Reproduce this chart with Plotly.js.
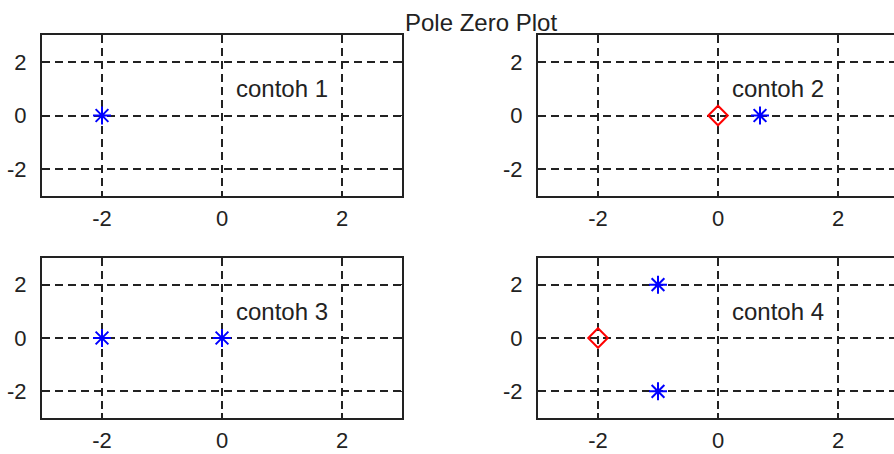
<!DOCTYPE html>
<html>
<head>
<meta charset="utf-8">
<script src="https://cdn.plot.ly/plotly-3.0.1.min.js"></script>
<style>
html,body{margin:0;padding:0;overflow:hidden;background:#fff;}
#plot{width:900px;height:454px;}
</style>
</head>
<body>
<div id="plot"></div>
<script>
// Data: poles (x) and zeros (o) for each example
const titles = ["contoh 1", "contoh 2", "contoh 3", "contoh 4"];
const poles1Re = [-2];      const poles1Im = [0];
const zeros1Re = [];        const zeros1Im = [];
const poles2Re = [0.7];     const poles2Im = [0];
const zeros2Re = [0];       const zeros2Im = [0];
const poles3Re = [-2, 0];   const poles3Im = [0, 0];
const zeros3Re = [];        const zeros3Im = [];
const poles4Re = [-1, -1];  const poles4Im = [2, -2];
const zeros4Re = [-2];      const zeros4Im = [0];
const tickVals = [-2, 0, 2];
const tickText = ["-2", "0", "2"];
const axisRange = [-3, 3];
const labelPos = [0.2, 1];
const mainTitle = "Pole Zero Plot";

const poles = [[poles1Re, poles1Im], [poles2Re, poles2Im], [poles3Re, poles3Im], [poles4Re, poles4Im]];
const zeros = [[zeros1Re, zeros1Im], [zeros2Re, zeros2Im], [zeros3Re, zeros3Im], [zeros4Re, zeros4Im]];

const W = 900, H = 454;
const colX = [[42, 402], [538, 898]];
const rowY = [[35, 196], [258, 418]];
const font = "'Liberation Sans', Arial, sans-serif";
const txtColor = "#222";

const traces = [];
const layout = {
  width: W, height: H, autosize: false,
  margin: {l: 0, r: 0, t: 0, b: 0, pad: 0},
  paper_bgcolor: "#fff", plot_bgcolor: "#fff",
  showlegend: false,
  font: {family: font, color: txtColor},
  annotations: []
};

for (let i = 0; i < 4; i++) {
  const r = Math.floor(i / 2), c = i % 2;
  const sfx = i === 0 ? "" : String(i + 1);
  const xa = "x" + sfx, ya = "y" + sfx;
  const common = {
    range: axisRange, tickvals: tickVals, ticktext: tickText,
    showline: true, linecolor: "#222", linewidth: 2, mirror: "ticks",
    ticks: "inside", ticklen: 5, tickwidth: 1.5, tickcolor: "#222",
    showgrid: true, gridcolor: "#222", gridwidth: 2, griddash: "8px,5px",
    zeroline: false, fixedrange: true,
    tickfont: {family: font, size: 22, color: txtColor}
  };
  layout["xaxis" + sfx] = Object.assign({}, common, {
    domain: [colX[c][0] / W, colX[c][1] / W], anchor: ya, ticklabelstandoff: 2
  });
  layout["yaxis" + sfx] = Object.assign({}, common, {
    domain: [(H - rowY[r][1]) / H, (H - rowY[r][0]) / H], anchor: xa, ticklabelstandoff: 9
  });
  if (zeros[i][0].length) {
    traces.push({
      type: "scatter", mode: "markers", x: zeros[i][0], y: zeros[i][1], xaxis: xa, yaxis: ya,
      marker: {symbol: "diamond-open", size: 15, color: "#ff0000", line: {width: 2, color: "#ff0000"}},
      cliponaxis: false, hoverinfo: "skip"
    });
  }
  traces.push({
    type: "scatter", mode: "markers", x: poles[i][0], y: poles[i][1], xaxis: xa, yaxis: ya,
    marker: {symbol: "asterisk-open", size: 15, color: "#0000ff", line: {width: 2, color: "#0000ff"}},
    cliponaxis: false, hoverinfo: "skip"
  });
  layout.annotations.push({
    xref: xa, yref: ya, x: labelPos[0], y: labelPos[1], text: titles[i],
    xanchor: "left", yanchor: "middle", showarrow: false,
    font: {family: font, size: 24, color: txtColor}
  });
}

layout.annotations.push({
  xref: "paper", yref: "paper", x: 481 / W, y: (H - 22) / H, text: mainTitle,
  xanchor: "center", yanchor: "middle", showarrow: false,
  font: {family: font, size: 24, color: txtColor}
});

Plotly.newPlot("plot", traces, layout, {displayModeBar: false, staticPlot: true});
</script>
</body>
</html>
